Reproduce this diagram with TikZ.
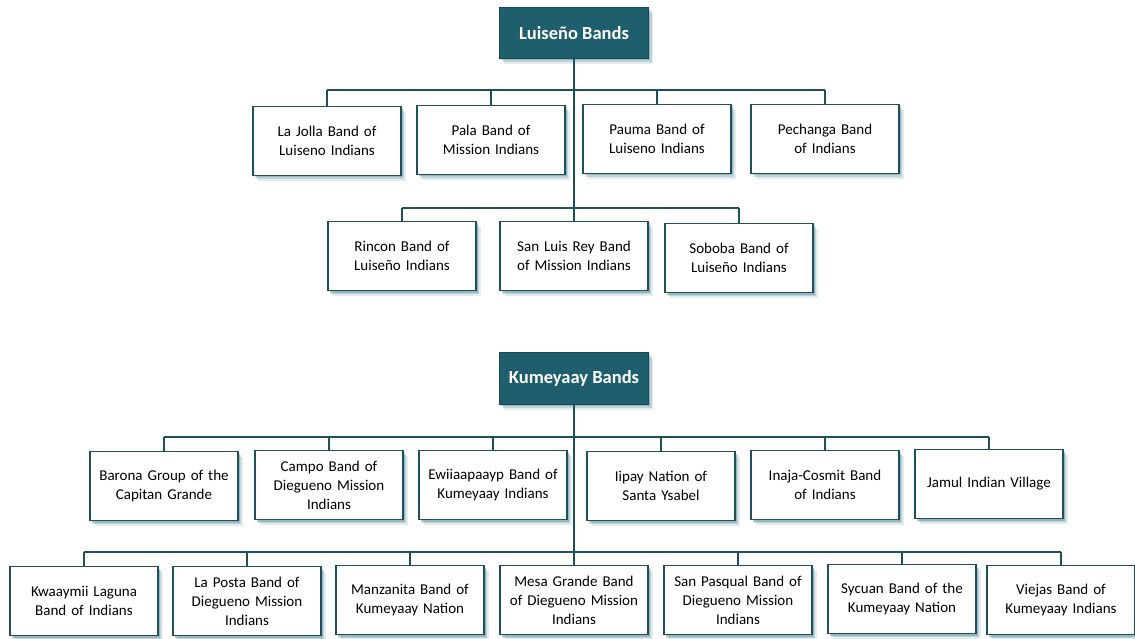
\documentclass[tikz,border=0pt]{standalone}
\usepackage{fontspec}
\setmainfont{Carlito}
\usetikzlibrary{shadows}
\definecolor{teal1}{HTML}{1F5E6C}
\definecolor{teal2}{HTML}{174A56}
\definecolor{linec}{HTML}{1E4F5C}
\definecolor{shcol}{HTML}{5E8E9A}
\tikzset{
  softshadow/.style={
    general shadow={fill=shcol,opacity=0.18,shadow xshift=4.5pt,shadow yshift=-5.5pt},
    general shadow={fill=shcol,opacity=0.28,shadow xshift=3pt,shadow yshift=-3.5pt},
    general shadow={fill=shcol,opacity=0.4,shadow xshift=1.5pt,shadow yshift=-2pt}},
  band/.style={draw=linec,line width=1.4pt,fill=white,softshadow,
    minimum width=148pt,minimum height=69pt,inner sep=0pt,
    text width=144pt,align=center,font=\fontsize{15}{19}\selectfont,text=black},
  head/.style={draw=teal2,line width=1pt,fill=teal1,softshadow,
    minimum width=149pt,minimum height=51pt,inner sep=0pt,
    text=white,font=\fontsize{18.5}{22}\selectfont\bfseries},
  conn/.style={draw=linec,line width=1.2pt}
}
\begin{document}
\begin{tikzpicture}[x=1pt,y=-1pt]
\useasboundingbox (0,0) rectangle (1135,639);
% Luiseno
\node[head] (lh) at (574,33) {Luiseño Bands};
\node[band] (l1) at (327,141) {La Jolla Band of\\Luiseno Indians};
\node[band] (l2) at (491,140) {Pala Band of\\Mission Indians};
\node[band] (l3) at (657,139) {Pauma Band of\\Luiseno Indians};
\node[band] (l4) at (825,139) {Pechanga Band\\of Indians};
\node[band] (l5) at (402,256) {Rincon Band of\\Luiseño Indians};
\node[band] (l6) at (574,256) {San Luis Rey Band\\of Mission Indians};
\node[band] (l7) at (739,258) {Soboba Band of\\Luiseño Indians};
\coordinate (lb1) at (574,90);
\coordinate (lb2) at (574,208);
% Kumeyaay
\node[head,minimum height=52pt] (kh) at (574,378) {Kumeyaay Bands};
\node[band] (k1) at (164,486) {Barona Group of the\\Capitan Grande};
\node[band] (k2) at (329,485) {Campo Band of\\Diegueno Mission\\Indians};
\node[band] (k3) at (493,485) {Ewiiaapaayp Band of\\Kumeyaay Indians};
\node[band] (k4) at (661,486) {Iipay Nation of\\Santa Ysabel};
\node[band] (k5) at (825,485) {Inaja-Cosmit Band\\of Indians};
\node[band] (k6) at (989,484) {Jamul Indian Village};
\node[band] (m1) at (84,601) {Kwaaymii Laguna\\Band of Indians};
\node[band] (m2) at (247,601) {La Posta Band of\\Diegueno Mission\\Indians};
\node[band] (m3) at (410,600) {Manzanita Band of\\Kumeyaay Nation};
\node[band] (m4) at (574,600) {Mesa Grande Band\\of Diegueno Mission\\Indians};
\node[band] (m5) at (738,600) {San Pasqual Band of\\Diegueno Mission\\Indians};
\node[band] (m6) at (902,599) {Sycuan Band of the\\Kumeyaay Nation};
\node[band] (m7) at (1061,600) {Viejas Band of\\Kumeyaay Indians};
\coordinate (kb1) at (575,437);
\coordinate (kb2) at (575,552);
% connectors
\draw[conn] (lh.south) -- (lh.south |- l6.north);
\draw[conn] (l1.north |- lb1) -- (l4.north |- lb1);
\foreach \n in {l1,l2,l3,l4} \draw[conn] (\n.north) -- (\n.north |- lb1);
\draw[conn] (l5.north |- lb2) -- (l7.north |- lb2);
\foreach \n in {l5,l7} \draw[conn] (\n.north) -- (\n.north |- lb2);
\draw[conn] (kh.south) -- (kh.south |- m4.north);
\draw[conn] (k1.north |- kb1) -- (k6.north |- kb1);
\foreach \n in {k1,k2,k3,k4,k5,k6} \draw[conn] (\n.north) -- (\n.north |- kb1);
\draw[conn] (m1.north |- kb2) -- (m7.north |- kb2);
\foreach \n in {m1,m2,m3,m5,m6,m7} \draw[conn] (\n.north) -- (\n.north |- kb2);
\end{tikzpicture}
\end{document}
